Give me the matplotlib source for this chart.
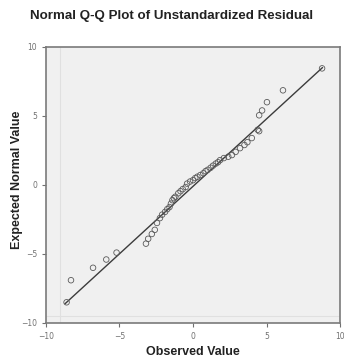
import matplotlib
matplotlib.use("Agg")
import matplotlib.pyplot as plt

# observed residuals vs expected normal values
observed = [-8.6, -8.3, -6.8, -5.9, -5.2,
            -3.2, -3.05, -2.8, -2.6, -2.45, -2.25, -2.1, -1.9, -1.75, -1.6,
            -1.5, -1.4, -1.3, -1.2, -1.0, -0.85, -0.7, -0.5, -0.4, -0.2,
            0.0, 0.15, 0.3, 0.5, 0.7, 0.85, 1.0, 1.2, 1.36, 1.55, 1.7, 1.84,
            2.1, 2.4, 2.65, 2.9, 3.2, 3.5, 3.7, 4.0, 4.4, 4.5, 4.5, 4.7,
            5.03, 6.12, 8.78]
expected = [-8.5, -6.9, -6.0, -5.4, -4.9,
            -4.25, -3.9, -3.55, -3.25, -2.75, -2.4, -2.15, -1.95, -1.75, -1.6,
            -1.35, -1.1, -0.95, -0.85, -0.6, -0.45, -0.3, -0.15, 0.1, 0.25,
            0.35, 0.5, 0.6, 0.72, 0.85, 1.0, 1.1, 1.25, 1.4, 1.55, 1.65, 1.8,
            1.95, 2.05, 2.17, 2.4, 2.67, 2.9, 3.1, 3.4, 4.0, 3.9, 5.05, 5.4,
            6.0, 6.86, 8.45]
line_x = [-8.7, 8.8]
line_y = [-8.6, 8.5]
ticks = [-10, -5, 0, 5, 10]

fig = plt.figure(figsize=(3.44, 3.6), dpi=100)
ax = fig.add_axes([0.1337, 0.1028, 0.8547, 0.7667])
ax.set_facecolor("#f0f0f0")

ax.axvline(-9.05, color="#e0e0e0", lw=0.8, zorder=0)
ax.axhline(-9.5, color="#e0e0e0", lw=0.8, zorder=0)

ax.plot(line_x, line_y, color="#3c3c3c", lw=1.0, zorder=2)
ax.scatter(observed, expected, s=16, facecolors="none", edgecolors="#5a5a5a",
           linewidths=0.6, zorder=3)

ax.set_xlim(-10, 10)
ax.set_ylim(-10, 10)
ax.set_xticks(ticks)
ax.set_yticks(ticks)
ax.tick_params(labelsize=5.5, colors="#707070", length=3, width=0.8)
for s in ax.spines.values():
    s.set_color("#7a7a7a")
    s.set_linewidth(1.2)

lab = dict(fontsize=9, fontweight="bold", color="#222222", family="Liberation Sans")
fig.text(0.56, 0.022, "Observed Value", ha="center", va="center", **lab)
fig.text(0.05, 0.5, "Expected Normal Value", ha="center", va="center",
         rotation=90, **lab)
fig.text(0.5, 0.955, "Normal Q-Q Plot of Unstandardized Residual", ha="center",
         va="center", fontsize=9.6, fontweight="bold", color="#222222",
         family="Liberation Sans")

fig.savefig("out.png", dpi=100)
